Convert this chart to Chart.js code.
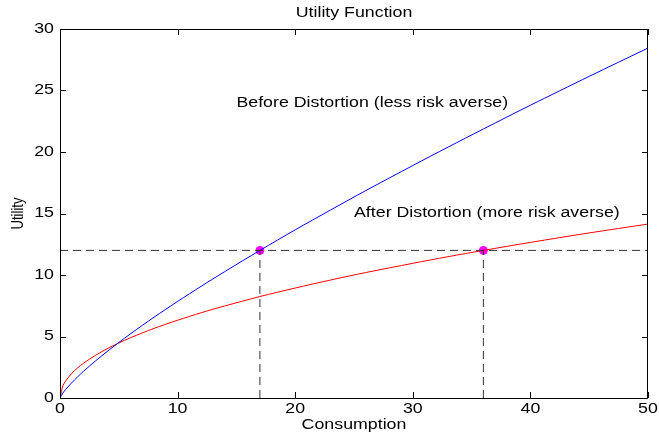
<!DOCTYPE html>
<html>
<head>
<meta charset="utf-8">
<script src="https://cdn.jsdelivr.net/npm/chart.js@4"></script>
<style>
  html, body { margin: 0; padding: 0; background: #fff; }
  #wrap { width: 659px; height: 438px; }
</style>
</head>
<body>
<div id="wrap"><canvas id="chart"></canvas></div>
<script>
// consumption values where the curves were read
const consumption = [0, 0.25, 0.5, 1, 1.5, 2, 3, 4, 5, 6, 8, 10, 12, 14, 17, 20, 23, 26, 30, 33, 36, 40, 45, 50];
// before distortion (blue)
const utilBefore = [0, 0.41, 0.71, 1.24, 1.72, 2.17, 3.0, 3.77, 4.51, 5.22, 6.57, 7.85, 9.08, 10.27, 12.0, 13.67, 15.28, 16.86, 18.9, 20.4, 21.87, 23.8, 26.15, 28.45];
// after distortion (red)
const utilAfter = [0, 1.0, 1.41, 2.0, 2.45, 2.83, 3.46, 4.0, 4.47, 4.9, 5.66, 6.32, 6.93, 7.48, 8.25, 8.94, 9.59, 10.2, 10.95, 11.49, 12.0, 12.65, 13.42, 14.14];

const refLevel = 12;
const markX = [17, 36];
const xTicks = [0, 10, 20, 30, 40, 50];
const yTicks = [0, 5, 10, 15, 20, 25, 30];

const labels = [
  { text: "Before Distortion (less risk averse)", x: 15, y: 24 },
  { text: "After Distortion (more risk averse)", x: 25, y: 15 }
];

const pts = (xs, ys) => xs.map((x, i) => ({ x, y: ys[i] }));

const dashStyle = { borderColor: "#333", borderWidth: 1, borderDash: [8, 5], pointRadius: 0, showLine: true, fill: false };
const FONT = "14px 'Liberation Sans', Arial, sans-serif";
const STRETCH = 1.27; // the original text is a bit wide

// text drawn a little stretched sideways, like the picture
function txt(ctx, s, x, y, align) {
  ctx.save();
  ctx.translate(x, y);
  ctx.scale(STRETCH, 1);
  ctx.textAlign = align;
  ctx.textBaseline = "middle";
  ctx.fillText(s, 0, 0);
  ctx.restore();
}

// box around plot, inward ticks, all labels
const frame = {
  id: "frame",
  afterDraw(chart) {
    const { ctx, chartArea: a, scales } = chart;
    ctx.save();
    ctx.strokeStyle = "#000";
    ctx.lineWidth = 1;
    ctx.strokeRect(a.left + 0.5, a.top + 0.5, a.right - a.left - 1, a.bottom - a.top);
    ctx.beginPath();
    xTicks.forEach(v => {
      const px = Math.round(scales.x.getPixelForValue(v)) + 0.5;
      ctx.moveTo(px, a.bottom); ctx.lineTo(px, a.bottom - 6);
      ctx.moveTo(px, a.top); ctx.lineTo(px, a.top + 6);
    });
    yTicks.forEach(v => {
      const py = Math.round(scales.y.getPixelForValue(v)) + 0.5;
      ctx.moveTo(a.left, py); ctx.lineTo(a.left + 6, py);
      ctx.moveTo(a.right, py); ctx.lineTo(a.right - 6, py);
    });
    ctx.stroke();

    ctx.fillStyle = "#000";
    ctx.font = FONT;
    xTicks.forEach(v => txt(ctx, String(v), scales.x.getPixelForValue(v), a.bottom + 11, "center"));
    yTicks.forEach(v => txt(ctx, String(v), a.left - 6, scales.y.getPixelForValue(v), "right"));
    txt(ctx, "Utility Function", (a.left + a.right) / 2, 13, "center");
    txt(ctx, "Consumption", (a.left + a.right) / 2, 425, "center");
    labels.forEach(l => txt(ctx, l.text, scales.x.getPixelForValue(l.x), scales.y.getPixelForValue(l.y), "left"));

    // y title, rotated (stretch goes across the glyphs here)
    ctx.save();
    ctx.translate(18, (a.top + a.bottom) / 2);
    ctx.rotate(-Math.PI / 2);
    ctx.scale(1, STRETCH);
    ctx.font = "13px 'Liberation Sans', Arial, sans-serif";
    ctx.textAlign = "center";
    ctx.textBaseline = "middle";
    ctx.fillText("Utility", 0, 0);
    ctx.restore();
    ctx.restore();
  }
};

new Chart(document.getElementById("chart"), {
  type: "scatter",
  data: {
    datasets: [
      Object.assign({ data: [{ x: 0, y: refLevel }, { x: 50, y: refLevel }] }, dashStyle),
      Object.assign({ data: [{ x: markX[0], y: 0 }, { x: markX[0], y: refLevel }] }, dashStyle),
      Object.assign({ data: [{ x: markX[1], y: 0 }, { x: markX[1], y: refLevel }] }, dashStyle),
      { data: pts(consumption, utilBefore), borderColor: "#0000ff", borderWidth: 1, pointRadius: 0, showLine: true, tension: 0.3 },
      { data: pts(consumption, utilAfter), borderColor: "#ff0000", borderWidth: 1, pointRadius: 0, showLine: true, tension: 0.3 },
      { data: markX.map(x => ({ x, y: refLevel })), pointRadius: 4, pointBackgroundColor: "#ff00ff", pointBorderColor: "#ff00ff", showLine: false }
    ]
  },
  options: {
    responsive: true,
    maintainAspectRatio: false,
    animation: false,
    layout: { padding: { top: 29, right: 11 } },
    plugins: {
      legend: { display: false },
      tooltip: { enabled: false }
    },
    scales: {
      x: {
        type: "linear", min: 0, max: 50,
        grid: { display: false },
        border: { display: false },
        ticks: { display: false },
        afterFit: s => { s.height = 40; }
      },
      y: {
        type: "linear", min: 0, max: 30,
        grid: { display: false },
        border: { display: false },
        ticks: { display: false },
        afterFit: s => { s.width = 60; }
      }
    }
  },
  plugins: [frame]
});
</script>
</body>
</html>
